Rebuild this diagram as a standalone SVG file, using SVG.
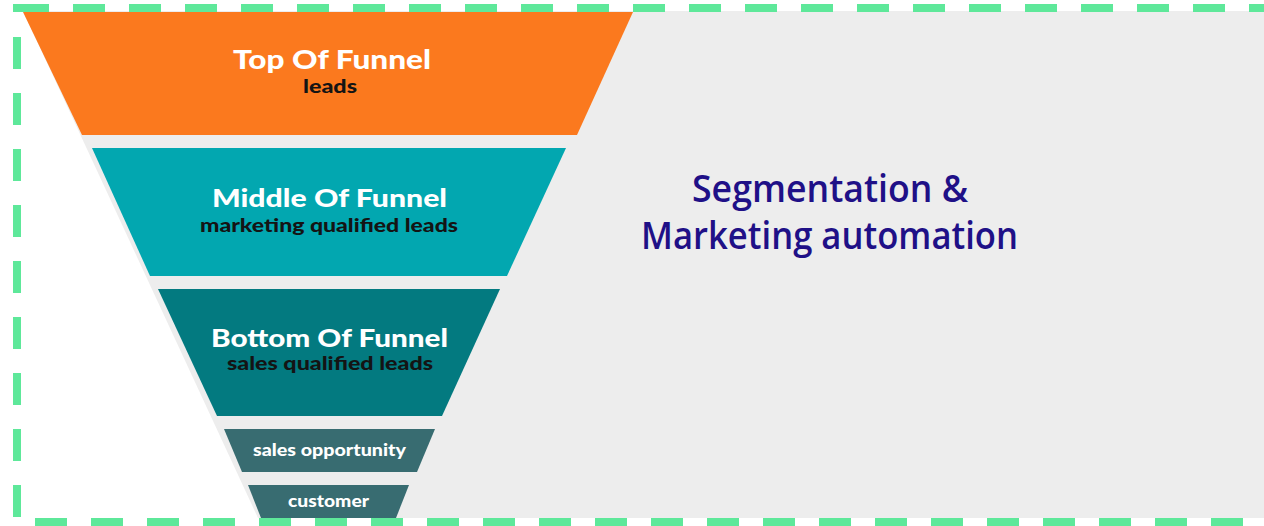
<svg xmlns="http://www.w3.org/2000/svg" width="1264" height="526" viewBox="0 0 1264 526">
  <style>
    .seg-title { font-family: Lato, "Liberation Sans", sans-serif; font-weight: 900; fill: #ffffff; text-anchor: middle; }
    .seg-sub { font-family: Lato, "Liberation Sans", sans-serif; font-weight: 900; fill: #141414; text-anchor: middle; }
    .seg-small { font-family: Lato, "Liberation Sans", sans-serif; font-weight: 900; fill: #ffffff; text-anchor: middle; }
    .side { font-family: "Open Sans", "Liberation Sans", sans-serif; font-weight: 600; fill: #1f1087; text-anchor: middle; }
    .dash { stroke: #5ee89a; stroke-width: 8; stroke-dasharray: 32 24; fill: none; }
  </style>
  <rect x="0" y="0" width="1264" height="526" fill="#ffffff"/>
  <polygon id="background" points="23,11 1264,11 1264,518 258,518" fill="#ededed"/>

  <g id="top-of-funnel">
    <polygon points="23,12 633,12 577,135 82,135" fill="#fb791e"/>
    <text class="seg-title" x="332" y="69" font-size="27" textLength="198" lengthAdjust="spacingAndGlyphs">Top Of Funnel</text>
    <text class="seg-sub" x="330" y="93" font-size="18" textLength="54" lengthAdjust="spacingAndGlyphs">leads</text>
  </g>

  <g id="middle-of-funnel">
    <polygon points="92,148 566,148 507,276 150,276" fill="#02a7b0"/>
    <text class="seg-title" x="329.5" y="207" font-size="24" textLength="235" lengthAdjust="spacingAndGlyphs">Middle Of Funnel</text>
    <text class="seg-sub" x="329" y="232" font-size="18" textLength="258" lengthAdjust="spacingAndGlyphs">marketing qualified leads</text>
  </g>

  <g id="bottom-of-funnel">
    <polygon points="158,289 500,289 442,416 217,416" fill="#037a80"/>
    <text class="seg-title" x="329.5" y="347" font-size="24" textLength="237" lengthAdjust="spacingAndGlyphs">Bottom Of Funnel</text>
    <text class="seg-sub" x="330" y="370" font-size="18" textLength="206" lengthAdjust="spacingAndGlyphs">sales qualified leads</text>
  </g>

  <g id="sales-opportunity">
    <polygon points="224,429 435,429 417,472 242,472" fill="#386c71"/>
    <text class="seg-small" x="329.5" y="456" font-size="16" textLength="153" lengthAdjust="spacingAndGlyphs">sales opportunity</text>
  </g>

  <g id="customer">
    <polygon points="248,485 409,485 396,518 261,518" fill="#386c71"/>
    <text class="seg-small" x="328.5" y="507" font-size="16" textLength="81" lengthAdjust="spacingAndGlyphs">customer</text>
  </g>

  <g id="segmentation-label">
    <text class="side" x="830" y="202" font-size="37" textLength="276" lengthAdjust="spacingAndGlyphs">Segmentation &amp;</text>
    <text class="side" x="829.5" y="249" font-size="37" textLength="377" lengthAdjust="spacingAndGlyphs">Marketing automation</text>
  </g>

  <g id="border">
    <rect x="13" y="4" width="8" height="8" fill="#5ee89a"/>
    <line class="dash" x1="17" y1="8" x2="1270" y2="8"/>
    <line class="dash" x1="17" y1="37" x2="17" y2="517"/>
    <line class="dash" x1="35" y1="522" x2="1270" y2="522"/>
  </g>
</svg>
